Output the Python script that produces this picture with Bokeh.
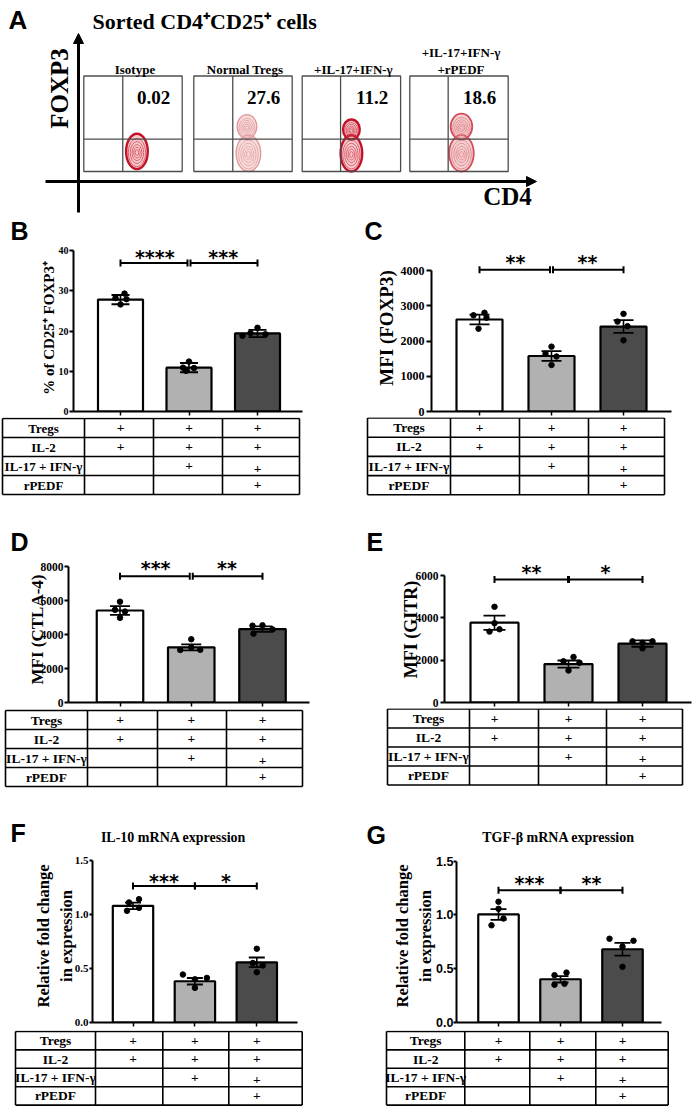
import numpy as np
from bokeh.plotting import figure
from bokeh.layouts import column, row
from bokeh.models import Range1d, Arrow, NormalHead, FixedTicker, PrintfTickFormatter
from bokeh.core.properties import value
from bokeh.embed import file_html
from bokeh.resources import INLINE

SERIF = "Liberation Serif"
SANS = "Liberation Sans"
STAR = "DejaVu Sans"

# ======================= DATA =======================
# Panel A (flow cytometry)
flow_titles = [["Isotype"], ["Normal Tregs"], ["+IL-17+IFN-γ"], ["+IL-17+IFN-γ", "+rPEDF"]]
flow_pct = ["0.02", "27.6", "11.2", "18.6"]
flow_pop_box = [0, 1, 1, 2, 2, 3, 3]
flow_pop_cd4 = [0.54, 0.54, 0.555, 0.50, 0.50, 0.525, 0.525]
flow_pop_foxp3 = [0.21, 0.47, 0.19, 0.44, 0.19, 0.47, 0.19]
flow_pop_sd_cd4 = [0.22, 0.20, 0.25, 0.17, 0.22, 0.22, 0.25]
flow_pop_sd_foxp3 = [0.37, 0.25, 0.38, 0.21, 0.38, 0.27, 0.38]
flow_gate_cd4 = [0.396, 0.396, 0.39, 0.39]
flow_gate_foxp3 = 0.34

groups = [1, 2, 3]
bar_colors = ["#ffffff", "#b1b1b1", "#4b4b4b"]

tbl_rows = ["Tregs", "IL-2", "IL-17 + IFN-γ", "rPEDF"]
tbl_marks = [[1, 1, 1], [1, 1, 1], [0, 1, 1], [0, 0, 1]]

b_mean = [27.8, 10.9, 19.4]
b_err = [1.15, 1.15, 0.9]
b_pts = [[28.2, 29.3, 26.6, 27.9], [12.4, 10.9, 10.8, 10.1], [20.8, 18.8, 19.2, 19.5]]
b_jit = [[-5, 4, 0, 6], [0, -6, 5, -3], [0, -15, 8, -7]]
b_ticks = [0, 10, 20, 30, 40]
b_label = "% of CD25⁺ FOXP3⁺"
b_bracket = 36.9
b_stars = ["****", "***"]

c_mean = [2610, 1575, 2410]
c_err = [140, 140, 180]
c_pts = [[2730, 2800, 2350, 2660], [1840, 1640, 1560, 1320], [2770, 2550, 2420, 2020]]
c_jit = [[-6, 5, -1, 7], [0, -6, 5, 0], [0, -6, 4, 0]]
c_ticks = [0, 1000, 2000, 3000, 4000]
c_label = "MFI (FOXP3)"
c_bracket = 4020
c_stars = ["**", "**"]

d_mean = [5413, 3244, 4318]
d_err = [260, 180, 160]
d_pts = [[5930, 5450, 5350, 4980], [3720, 3090, 3100, 3250], [4520, 4540, 4050, 4300]]
d_jit = [[0, -5, 5, 0], [0, -11, 9, 0], [-10, 0, -9, 10]]
d_ticks = [0, 2000, 4000, 6000, 8000]
d_label = "MFI (CTLA-4)"
d_bracket = 7421
d_stars = ["***", "**"]

e_mean = [3769, 1815, 2785]
e_err = [340, 170, 150]
e_pts = [[4520, 3350, 3460, 3750], [2150, 1950, 1880, 1510], [2890, 2890, 2820, 2560]]
e_jit = [[0, -5, 5, 0], [5, -5, 11, 0], [-10, 10, 0, 0]]
e_ticks = [0, 2000, 4000, 6000]
e_label = "MFI (GITR)"
e_bracket = 5815
e_stars = ["**", "*"]

f_mean = [1.08, 0.382, 0.557]
f_err = [0.03, 0.03, 0.045]
f_pts = [[1.111, 1.142, 1.034, 1.062], [0.444, 0.413, 0.40, 0.321], [0.683, 0.551, 0.528, 0.465]]
f_jit = [[-4, 6, -6, 6], [-12, 12, 0, 0], [0, -4, 6, 0]]
f_ticks = [0, 0.5, 1.0, 1.5]
f_label = "Relative fold change\nin expression"
f_bracket = 1.264
f_stars = ["***", "*"]
f_title = "IL-10 mRNA expression"

g_mean = [1.005, 0.402, 0.681]
g_err = [0.05, 0.03, 0.06]
g_pts = [[1.123, 1.057, 0.904, 0.967], [0.44, 0.464, 0.351, 0.36], [0.779, 0.76, 0.706, 0.518]]
g_jit = [[0, 0, -7, 5], [-6, 6, -6, 4], [-13, 11, 0, 0]]
g_ticks = [0, 0.5, 1.0, 1.5]
g_label = "Relative fold change\nin expression"
g_bracket = 1.23
g_stars = ["***", "**"]
g_title = "TGF-β mRNA expression"

# ======================= LAYOUT / STYLE (page pixels) =======================
PAGE_W = 692
COLW = 346
ROW_TOP = {"BC": 244, "DE": 556, "FG": 849}
XAXIS_Y = {"BC": 411, "DE": 702, "FG": 1022}
GAP = {"BC": 6, "DE": 6, "FG": 8}
TBL_END = {"BC": 556, "DE": 849, "FG": 1106}

GEO = {
    "B": dict(row="BC", col_x=0, axis_x=73, x_end=302, bar_x=[120, 188.5, 257], bar_w=45, ytop_px=250,
              tbl_top=418, tbl_left=2, tbl_cols=[84, 153, 222], tbl_right=299, tbl_rh=19, tbl_font="13px",
              cap=18, mid_gap=1.5, tick_out=4, tick_font=SERIF, tick_size="10px", tick_standoff=1,
              lab_size="15px", lab_standoff=-1, letter=(10, 230), star_dy=-6),
    "C": dict(row="BC", col_x=346, axis_x=431, x_end=671, bar_x=[479, 551, 623], bar_w=46, ytop_px=270,
              tbl_top=417.5, tbl_left=367, tbl_cols=[450, 519, 588], tbl_right=664, tbl_rh=19.2,
              tbl_font="13.5px", cap=20, mid_gap=1.5, tick_out=5, tick_font=SERIF, tick_size="12px",
              tick_standoff=2, lab_size="19px", lab_standoff=1, letter=(364, 230), star_dy=-7.5),
    "D": dict(row="DE", col_x=0, axis_x=68, x_end=309, bar_x=[119.5, 191, 262], bar_w=46.5, ytop_px=566,
              tbl_top=710, tbl_left=5, tbl_cols=[87, 157, 226], tbl_right=302, tbl_rh=19, tbl_font="13.5px",
              cap=20, mid_gap=1.5, tick_out=4, tick_font=SERIF, tick_size="11.5px", tick_standoff=1,
              lab_size="17px", lab_standoff=-9, letter=(10, 541), star_dy=-8.5),
    "E": dict(row="DE", col_x=346, axis_x=444, x_end=691, bar_x=[494, 568, 642], bar_w=48, ytop_px=575,
              tbl_top=708.5, tbl_left=387, tbl_cols=[469, 538, 606], tbl_right=682, tbl_rh=19,
              tbl_font="13.5px", cap=22, mid_gap=0.5, tick_out=4, tick_font=SERIF, tick_size="11.5px",
              tick_standoff=2, lab_size="18px", lab_standoff=-8, letter=(366, 541), star_dy=-7),
    "F": dict(row="FG", col_x=0, axis_x=92, x_end=297, bar_x=[132.5, 194.5, 256.3], bar_w=40.4, ytop_px=860,
              tbl_top=1031, tbl_left=15, tbl_cols=[95, 162.3, 228.3], tbl_right=301.7, tbl_rh=18.4,
              tbl_font="13.5px", cap=16, mid_gap=0, tick_out=3, tick_font=SERIF, tick_size="11px",
              tick_standoff=1, lab_size="16.5px", lab_standoff=-4, letter=(10, 832), title_pos=(173, 837),
              star_dy=-5),
    "G": dict(row="FG", col_x=346, axis_x=456, x_end=661, bar_x=[498, 560, 622], bar_w=40.5, ytop_px=860.7,
              tbl_top=1031, tbl_left=386, tbl_cols=[464.3, 529.3, 595.3], tbl_right=667.7, tbl_rh=18.4,
              tbl_font="13.5px", cap=16, mid_gap=0, tick_out=3, tick_font=SANS, tick_size="12.5px",
              tick_standoff=0, lab_size="16.5px", lab_standoff=-2, letter=(366, 834), title_pos=(558, 837),
              star_dy=-7.5),
}


def new_fig(**kw):
    p = figure(toolbar_location=None, output_backend="svg", title=None, outline_line_color=None, **kw)
    p.background_fill_color = "white"
    p.border_fill_color = "white"
    return p


def xconv(key):
    g = GEO[key]
    bx0 = g["bar_x"][0]
    ppx = (g["bar_x"][2] - g["bar_x"][0]) / 2.0
    return (lambda px: 1 + (px - bx0) / ppx), ppx


def chart_fig(key, mean, err, pts, jit, ticks, ylabel, bracket, stars, decimals=False):
    g = GEO[key]
    xd, ppx = xconv(key)
    top = ROW_TOP[g["row"]]
    f_bot = XAXIS_Y[g["row"]]
    gap = GAP[g["row"]]
    ch_h = f_bot + gap - top
    mbl = int(round(g["axis_x"] - g["col_x"]))
    mbr = int(round(g["col_x"] + COLW - g["x_end"]))
    f_left = g["col_x"] + mbl
    f_right = g["col_x"] + COLW - mbr
    ytop = ticks[-1]
    ppy = (f_bot - g["ytop_px"]) / ytop
    y_end = (f_bot - top) / ppy

    p = new_fig(width=COLW, height=ch_h, x_range=Range1d(xd(f_left), xd(f_right)),
                y_range=Range1d(0, y_end), min_border_left=mbl, min_border_right=mbr,
                min_border_top=0, min_border_bottom=gap)
    p.xgrid.visible = False
    p.ygrid.visible = False

    ya = p.yaxis[0]
    ya.ticker = FixedTicker(ticks=ticks)
    ya.bounds = (0, ytop)
    ya.axis_line_width = 2
    ya.major_tick_line_width = 2
    ya.major_tick_out = g["tick_out"]
    ya.major_tick_in = 0
    ya.minor_tick_out = 0
    ya.minor_tick_in = 0
    ya.major_label_text_font = g["tick_font"]
    ya.major_label_text_font_size = g["tick_size"]
    ya.major_label_text_font_style = "bold"
    ya.major_label_text_color = "black"
    ya.major_label_standoff = g["tick_standoff"]
    ya.formatter = PrintfTickFormatter(format="%.1f" if decimals else "%d")
    ya.axis_label = ylabel
    ya.axis_label_text_font = SERIF
    ya.axis_label_text_font_size = g["lab_size"]
    ya.axis_label_text_font_style = "bold"
    ya.axis_label_text_color = "black"
    ya.axis_label_standoff = g["lab_standoff"]

    xa = p.xaxis[0]
    xa.ticker = FixedTicker(ticks=groups)
    xa.axis_line_width = 2
    xa.major_tick_line_width = 1.5
    xa.major_tick_out = 4
    xa.major_tick_in = 0
    xa.minor_tick_out = 0
    xa.minor_tick_in = 0
    xa.major_label_text_font_size = "1px"
    xa.major_label_text_alpha = 0
    xa.major_label_standoff = 0

    bw = g["bar_w"] / ppx
    p.vbar(x=groups, top=mean, width=bw, bottom=0, fill_color=bar_colors, line_color="black", line_width=2.2)

    lo = [m - e for m, e in zip(mean, err)]
    hi = [m + e for m, e in zip(mean, err)]
    p.segment(x0=groups, y0=lo, x1=groups, y1=hi, line_color="black", line_width=1.6)
    p.rect(x=groups + groups, y=lo + hi, width=g["cap"], height=1.8, width_units="screen",
           height_units="screen", fill_color="black", line_color=None)

    xs, ys = [], []
    for gi, vals, js in zip(groups, pts, jit):
        for v, j in zip(vals, js):
            xs.append(gi + j / ppx)
            ys.append(v)
    p.scatter(x=xs, y=ys, size=5.5, fill_color="black", line_color="black")

    dlt = g["mid_gap"] / ppx
    p.segment(x0=[1, 2 + dlt], y0=[bracket, bracket], x1=[2 - dlt, 3], y1=[bracket, bracket],
              line_color="black", line_width=2)
    p.rect(x=[1, 2 - dlt, 2 + dlt, 3], y=[bracket] * 4, width=2, height=7, width_units="screen",
           height_units="screen", fill_color="black", line_color=None)
    p.text(x=[1.5, 2.5], y=[bracket, bracket], text=stars, text_align="center", text_baseline="middle",
           y_offset=g["star_dy"], text_font=value(STAR), text_font_size="19px", text_font_style="bold",
           text_color="black")
    return p


def table_fig(rowkey, keys, next_keys, titles):
    top = XAXIS_Y[rowkey] + GAP[rowkey]
    bot = TBL_END[rowkey]
    h = bot - top
    t = new_fig(width=PAGE_W, height=h, x_range=Range1d(0, PAGE_W), y_range=Range1d(bot, top),
                min_border=0, x_axis_type=None, y_axis_type=None)
    extra = {}
    for key in keys:
        xd, _ = xconv(key)
        extra[key] = Range1d(xd(0), xd(PAGE_W))
    t.extra_x_ranges = extra
    for key in keys:
        g = GEO[key]
        xd, _ = xconv(key)
        rh = g["tbl_rh"]
        tt = g["tbl_top"]
        xl, xr = xd(g["tbl_left"]), xd(g["tbl_right"])
        cols = [xd(c) for c in g["tbl_cols"]]
        nrow = len(tbl_rows)
        hy = [tt + i * rh for i in range(nrow + 1)]
        t.segment(x0=[xl] * len(hy), y0=hy, x1=[xr] * len(hy), y1=hy, line_color="black", line_width=1.6,
                  x_range_name=key)
        vx = [xl] + cols + [xr]
        t.segment(x0=vx, y0=[tt] * len(vx), x1=vx, y1=[tt + nrow * rh] * len(vx), line_color="black",
                  line_width=1.6, x_range_name=key)
        t.text(x=[(xl + cols[0]) / 2] * nrow, y=[tt + (i + 0.5) * rh for i in range(nrow)], text=tbl_rows,
               text_align="center", text_baseline="middle", text_font=value(SERIF),
               text_font_size=g["tbl_font"], text_font_style="bold", text_color="black", x_range_name=key)
        for i, marks in enumerate(tbl_marks):
            px_ = [gi for gi, m in zip(groups, marks) if m]
            dy = [2.5 if (i == 2 and gi == 3) else 0 for gi in px_]
            t.text(x=px_, y=[tt + (i + 0.5) * rh + d for d in dy], text=["+"] * len(px_),
                   text_align="center", text_baseline="middle", text_font=value(SERIF),
                   text_font_size="13.5px", text_font_style="bold", text_color="black", x_range_name=key)
    for key in next_keys:
        lx, ly = GEO[key]["letter"]
        t.text(x=[lx], y=[ly], text=[key], text_align="left", text_baseline="middle",
               text_font=value(SANS), text_font_size="25px", text_font_style="bold", text_color="black")
    for key, title in titles:
        tx, ty = GEO[key]["title_pos"]
        t.text(x=[tx], y=[ty], text=[title], text_align="center", text_baseline="middle",
               text_font=value(SERIF), text_font_size="14px", text_font_style="bold", text_color="black")
    return t


# ======================= PANEL A =======================
A_H = ROW_TOP["BC"]
ux, uy = 98.4, 95.5
box0_left, box_bot = 83.3, 171.0
box_lefts = [83.3, 193.3, 301.7, 409.3]
flow_style = ["dark", "light", "dark", "medium"]
STYLES = {
    "dark": dict(fill="#f4c4c7", outer="#c3132b", ow=2.4, inner="#d64656", iw=1.0, ia=0.8),
    "light": dict(fill="#f6d6d6", outer="#e0979a", ow=1.3, inner="#e4a3a5", iw=1.0, ia=0.85),
    "medium": dict(fill="#f4caca", outer="#d34e5a", ow=1.8, inner="#dd8288", iw=1.0, ia=0.85),
}


def ax(px):
    return (px - box0_left) / ux


def ay(py):
    return (box_bot - py) / uy


pA = new_fig(width=PAGE_W, height=A_H, x_range=Range1d(ax(0), ax(PAGE_W)), y_range=Range1d(ay(A_H), ay(0)),
             min_border=0, x_axis_type=None, y_axis_type=None)
box_off = [ax(b) for b in box_lefts]

pops = list(zip(flow_pop_box, flow_pop_cd4, flow_pop_foxp3, flow_pop_sd_cd4, flow_pop_sd_foxp3))
for b, cx, cy, w, h in pops:
    st = STYLES[flow_style[b]]
    pA.ellipse(x=[box_off[b] + cx], y=[cy], width=[w], height=[h], fill_color=st["fill"], fill_alpha=0.9,
               line_color=None)
for ring in [1.0, 0.8, 0.62, 0.45, 0.3, 0.16]:
    for b, cx, cy, w, h in pops:
        st = STYLES[flow_style[b]]
        if ring == 1.0:
            pA.ellipse(x=[box_off[b] + cx], y=[cy], width=[w], height=[h], fill_color=None,
                       line_color=st["outer"], line_width=st["ow"])
        else:
            pA.ellipse(x=[box_off[b] + cx], y=[cy - 0.012], width=[w * ring], height=[h * ring],
                       fill_color=None, line_color=st["inner"], line_width=st["iw"], line_alpha=st["ia"])

pA.quad(left=box_off, right=[o + 1 for o in box_off], bottom=[0] * 4, top=[1] * 4, fill_color=None,
        line_color="#4d4d4d", line_width=1.3)
gx = [o + gg for o, gg in zip(box_off, flow_gate_cd4)]
pA.segment(x0=gx, y0=[0] * 4, x1=gx, y1=[1] * 4, line_color="#4d4d4d", line_width=1.3)
pA.segment(x0=box_off, y0=[flow_gate_foxp3] * 4, x1=[o + 1 for o in box_off], y1=[flow_gate_foxp3] * 4,
           line_color="#4d4d4d", line_width=1.3)

pA.text(x=[o + 0.71 for o in box_off], y=[0.775] * 4, text=flow_pct, text_align="center",
        text_baseline="middle", text_font=value(SERIF), text_font_size="19px", text_font_style="bold",
        text_color="black")

for o, lines in zip(box_off, flow_titles):
    n = len(lines)
    for k, ln in enumerate(lines):
        yy = ay(69 - (n - 1 - k) * 17)
        pA.text(x=[o + 0.52], y=[yy], text=[ln], text_align="center", text_baseline="middle",
                text_font=value(SERIF), text_font_size="13px", text_font_style="bold", text_color="black")

pA.add_layout(Arrow(end=NormalHead(size=10, fill_color="black", line_color="black"), x_start=ax(45),
                    y_start=ay(181), x_end=ax(536), y_end=ay(181), line_width=3, line_color="black"))
pA.add_layout(Arrow(end=NormalHead(size=10, fill_color="black", line_color="black"), x_start=ax(78),
                    y_start=ay(212), x_end=ax(78), y_end=ay(33), line_width=3, line_color="black"))

pA.text(x=[ax(8)], y=[ay(19)], text=["A"], text_align="left", text_baseline="middle",
        text_font=value(SANS), text_font_size="26px", text_font_style="bold", text_color="black")
pA.text(x=[ax(92)], y=[ay(21)], text=["Sorted CD4⁺CD25⁺ cells"], text_align="left", text_baseline="middle",
        text_font=value(SERIF), text_font_size="22px", text_font_style="bold", text_color="black")
pA.text(x=[ax(59)], y=[ay(88)], text=["FOXP3"], angle=np.pi / 2, text_align="center", text_baseline="middle",
        text_font=value(SERIF), text_font_size="25px", text_font_style="bold", text_color="black")
pA.text(x=[ax(507)], y=[ay(196)], text=["CD4"], text_align="center", text_baseline="middle",
        text_font=value(SERIF), text_font_size="25px", text_font_style="bold", text_color="black")
for key in ["B", "C"]:
    lx, ly = GEO[key]["letter"]
    pA.text(x=[ax(lx)], y=[ay(ly)], text=[key], text_align="left", text_baseline="middle",
            text_font=value(SANS), text_font_size="25px", text_font_style="bold", text_color="black")

# ======================= PANELS B-G =======================
pB = chart_fig("B", b_mean, b_err, b_pts, b_jit, b_ticks, b_label, b_bracket, b_stars)
pC = chart_fig("C", c_mean, c_err, c_pts, c_jit, c_ticks, c_label, c_bracket, c_stars)
pD = chart_fig("D", d_mean, d_err, d_pts, d_jit, d_ticks, d_label, d_bracket, d_stars)
pE = chart_fig("E", e_mean, e_err, e_pts, e_jit, e_ticks, e_label, e_bracket, e_stars)
pF = chart_fig("F", f_mean, f_err, f_pts, f_jit, f_ticks, f_label, f_bracket, f_stars, decimals=True)
pG = chart_fig("G", g_mean, g_err, g_pts, g_jit, g_ticks, g_label, g_bracket, g_stars, decimals=True)

tBC = table_fig("BC", ["B", "C"], ["D", "E"], [])
tDE = table_fig("DE", ["D", "E"], ["F", "G"], [("F", f_title), ("G", g_title)])
tFG = table_fig("FG", ["F", "G"], [], [])

layout = column(pA, row(pB, pC), tBC, row(pD, pE), tDE, row(pF, pG), tFG)

open("out.html", "w").write(file_html(layout, INLINE))
